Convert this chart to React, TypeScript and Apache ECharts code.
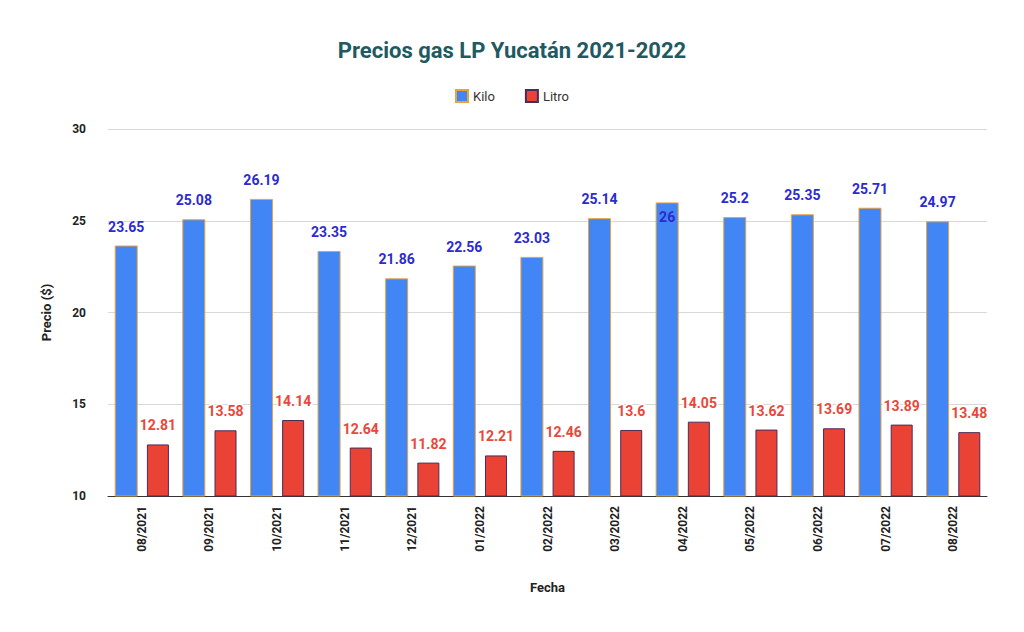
import React, { useEffect, useRef } from 'react';
import * as echarts from 'echarts';

const categories = ['08/2021', '09/2021', '10/2021', '11/2021', '12/2021', '01/2022', '02/2022', '03/2022', '04/2022', '05/2022', '06/2022', '07/2022', '08/2022'];
const kilo = [23.65, 25.08, 26.19, 23.35, 21.86, 22.56, 23.03, 25.14, 26, 25.2, 25.35, 25.71, 24.97];
const litro = [12.81, 13.58, 14.14, 12.64, 11.82, 12.21, 12.46, 13.6, 14.05, 13.62, 13.69, 13.89, 13.48];

const App: React.FC = () => {
  const chartRef = useRef<HTMLDivElement>(null);

  useEffect(() => {
    if (!chartRef.current) return;
    const chart = echarts.init(chartRef.current, undefined, { renderer: 'svg' });

    const font = 'Roboto, "Noto Sans", sans-serif';

    const option: echarts.EChartsOption = {
      animation: false,
      backgroundColor: '#ffffff',
      textStyle: { fontFamily: font },
      title: {
        text: 'Precios gas LP Yucatán 2021-2022',
        left: 'center',
        top: 26,
        textStyle: { color: '#1f5a63', fontSize: 22, fontWeight: 'bold', fontFamily: font },
      },
      legend: {
        top: 76,
        left: 'center',
        itemWidth: 12,
        itemHeight: 12,
        itemGap: 30,
        icon: 'rect',
        textStyle: { color: '#333', fontSize: 13 },
        data: ['Kilo', 'Litro'],
      },
      grid: { left: 100, right: 29, top: 121, bottom: 128 },
      xAxis: {
        type: 'category',
        data: categories,
        name: 'Fecha',
        nameLocation: 'middle',
        nameGap: 85,
        nameTextStyle: { color: '#222', fontWeight: 'bold', fontSize: 13 },
        axisTick: { show: false },
        axisLine: { lineStyle: { color: '#333' } },
        axisLabel: { rotate: 90, color: '#222', fontWeight: 'bold', fontSize: 12, margin: 10 },
      },
      yAxis: {
        type: 'value',
        min: 10,
        max: 30,
        interval: 5,
        name: 'Precio ($)',
        nameLocation: 'middle',
        nameGap: 55,
        nameTextStyle: { color: '#222', fontWeight: 'bold', fontSize: 13 },
        axisLabel: { color: '#222', fontWeight: 'bold', fontSize: 12, margin: 22 },
        splitLine: { lineStyle: { color: '#d9d9d9' } },
      },
      series: [
        {
          name: 'Kilo',
          type: 'bar',
          barWidth: 23,
          barGap: '40%',
          data: kilo.map((v, i) =>
            i === 8
              ? { value: v, label: { position: 'insideTop', distance: 8 } }
              : v
          ),
          itemStyle: { color: '#4285f4', borderColor: '#e8a33d', borderWidth: 1 },
          label: {
            show: true,
            position: 'top',
            distance: 12,
            color: '#2b2bd0',
            fontWeight: 'bold',
            fontSize: 14,
          },
        },
        {
          name: 'Litro',
          type: 'bar',
          barWidth: 22,
          data: litro,
          itemStyle: { color: '#ea4335', borderColor: '#4a2b5a', borderWidth: 1 },
          label: {
            show: true,
            position: 'top',
            distance: 12,
            color: '#e8483a',
            fontWeight: 'bold',
            fontSize: 14,
            textBorderColor: '#ffffff',
            textBorderWidth: 3,
          },
        },
      ],
    };

    chart.setOption(option);
    const handleResize = () => chart.resize();
    window.addEventListener('resize', handleResize);
    return () => {
      window.removeEventListener('resize', handleResize);
      chart.dispose();
    };
  }, []);

  return <div ref={chartRef} style={{ width: 1008, height: 616 }} />;
};

export default App;
